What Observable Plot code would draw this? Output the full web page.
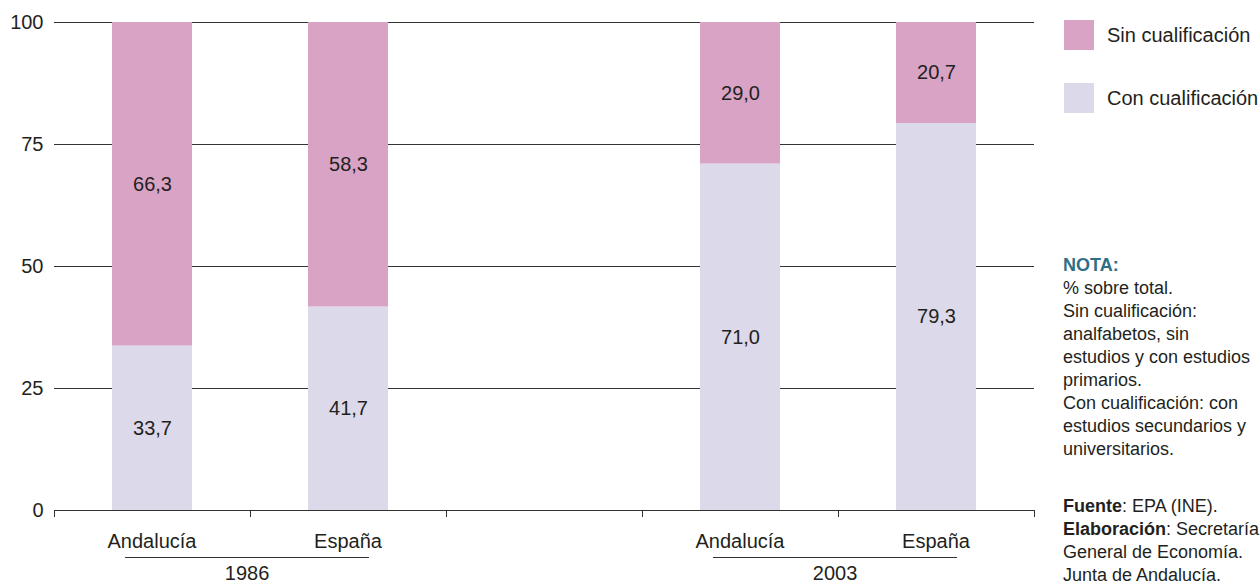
<!DOCTYPE html>
<html>
<head>
<meta charset="utf-8">
<script src="https://cdn.jsdelivr.net/npm/d3@7"></script>
<script src="https://cdn.jsdelivr.net/npm/@observablehq/plot@0.6"></script>
<style>
  body { margin: 0; background: #fff; }
  #wrap { position: relative; width: 1260px; height: 585px; overflow: hidden;
    font-family: "Liberation Sans", Arial, sans-serif; color: #231f20; }
  #chart { position: absolute; left: 0; top: 0; }
  #legend { position: absolute; left: 1064px; top: 20px; }
  .item { display: flex; align-items: center; height: 30px; margin-bottom: 33px; font-size: 20px; white-space: nowrap; }
  .sw { width: 30px; height: 30px; margin-right: 13px; flex: none; }
  #note { position: absolute; left: 1063px; top: 254px; font-size: 18px; line-height: 23px; white-space: nowrap; }
  #note .h { color: #2e6f86; font-weight: bold; }
  #note b { font-weight: bold; }
  .gap { height: 34px; }
</style>
</head>
<body>
<div id="wrap">
  <div id="chart"></div>
  <div id="legend"></div>
  <div id="note">
    <div class="h">NOTA:</div>
    <div>% sobre total.</div>
    <div>Sin cualificación:</div>
    <div>analfabetos, sin</div>
    <div>estudios y con estudios</div>
    <div>primarios.</div>
    <div>Con cualificación: con</div>
    <div>estudios secundarios y</div>
    <div>universitarios.</div>
    <div class="gap"></div>
    <div><b>Fuente</b>: EPA (INE).</div>
    <div><b>Elaboración</b>: Secretaría</div>
    <div>General de Economía.</div>
    <div>Junta de Andalucía.</div>
  </div>
</div>
<script>
// ---- data ----
const years = ["1986", "2003"];
const regions = ["Andalucía", "España"];
const series = ["Con cualificación", "Sin cualificación"];
const conValues = [33.7, 41.7, 71.0, 79.3];   // 1986 And, 1986 Esp, 2003 And, 2003 Esp
const sinValues = [66.3, 58.3, 29.0, 20.7];
const seriesColors = ["#dcd9ea", "#d9a3c6"];
const yTicks = [0, 25, 50, 75, 100];

// ---- build slots (with an empty slot between years) ----
const slots = [];
years.forEach((yr, i) => {
  if (i > 0) slots.push("gap");
  regions.forEach(r => slots.push(yr + "|" + r));
});
const rows = [];
let k = 0;
years.forEach(yr => regions.forEach(r => {
  rows.push({slot: yr + "|" + r, series: series[0], value: conValues[k]});
  rows.push({slot: yr + "|" + r, series: series[1], value: sinValues[k]});
  k++;
}));
const fmt = v => v.toFixed(1).replace(".", ",");
const FONT = '"Liberation Sans", Arial, sans-serif';
const TXT = "#231f20";

// custom x-axis: baseline, boundary ticks, category labels, group labels
function xAxisDecor(index, scales, values, dims) {
  const x = scales.x, y = scales.y;
  const bw = typeof x.bandwidth === "function" ? x.bandwidth() : x.bandwidth;
  const st = x(slots[1]) - x(slots[0]);
  const off = (st - bw) / 2;
  const y0 = y(0);
  const g = d3.create("svg:g").attr("font-family", FONT).attr("fill", TXT);
  const bounds = slots.map(s => x(s) - off).concat([x(slots[slots.length - 1]) + bw + off]);
  g.append("line").attr("x1", bounds[0]).attr("x2", bounds[bounds.length - 1])
    .attr("y1", y0 + 0.5).attr("y2", y0 + 0.5).attr("stroke", "#333");
  bounds.forEach(b => g.append("line").attr("x1", b + 0.5).attr("x2", b + 0.5)
    .attr("y1", y0).attr("y2", y0 + 7).attr("stroke", "#333"));
  slots.filter(s => s !== "gap").forEach(s => {
    g.append("text").attr("x", x(s) + bw / 2).attr("y", y0 + 31)
      .attr("dy", "0.35em").attr("text-anchor", "middle").attr("font-size", 20)
      .text(s.split("|")[1]);
  });
  years.forEach(yr => {
    const mid = x(yr + "|" + regions[1]) - off;
    g.append("line").attr("x1", mid - 0.638 * st).attr("x2", mid + 0.607 * st)
      .attr("y1", y0 + 47.5).attr("y2", y0 + 47.5).attr("stroke", "#333");
    g.append("text").attr("x", mid - 0.015 * st).attr("y", y0 + 63)
      .attr("dy", "0.35em").attr("text-anchor", "middle").attr("font-size", 20)
      .text(yr);
  });
  return g.node();
}

const chart = Plot.plot({
  width: 1040,
  height: 585,
  marginTop: 22,
  marginBottom: 75,
  marginLeft: 54,
  marginRight: 6,
  style: {fontFamily: FONT, fontSize: "20px", color: TXT, background: "transparent"},
  x: {domain: slots, paddingInner: 0.592, paddingOuter: 0.296, axis: null},
  y: {domain: [0, 100], ticks: yTicks, tickSize: 0, tickPadding: 11, label: null},
  color: {domain: series, range: seriesColors},
  marks: [
    Plot.ruleY(yTicks.filter(d => d > 0), {stroke: "#333", strokeWidth: 1}),
    Plot.barY(rows, {x: "slot", y: "value", fill: "series"}),
    Plot.text(rows, Plot.stackY({x: "slot", y: "value", z: "series", text: d => fmt(d.value), fill: TXT, fontSize: 20})),
    xAxisDecor
  ]
});
document.getElementById("chart").appendChild(chart);

// legend (top series first)
const legend = document.getElementById("legend");
[1, 0].forEach(i => {
  const it = document.createElement("div");
  it.className = "item";
  const sw = document.createElement("div");
  sw.className = "sw";
  sw.style.background = seriesColors[i];
  it.appendChild(sw);
  it.appendChild(document.createTextNode(series[i]));
  legend.appendChild(it);
});
</script>
</body>
</html>
